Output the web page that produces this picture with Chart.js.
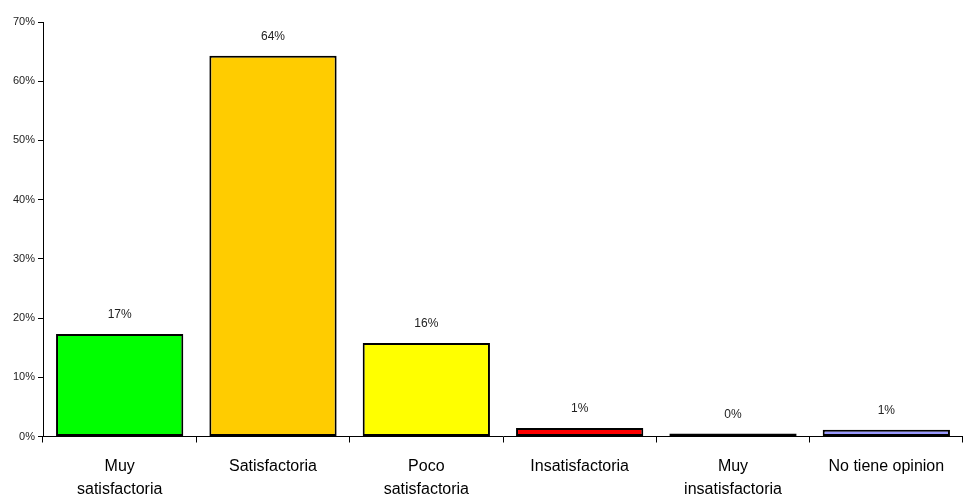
<!DOCTYPE html>
<html>
<head>
<meta charset="utf-8">
<script src="https://cdn.jsdelivr.net/npm/chart.js@4"></script>
<style>
  html, body { margin: 0; padding: 0; background: #fff; }
  #wrap { width: 963px; height: 499px; }
</style>
</head>
<body>
<div id="wrap"><canvas id="chart" width="963" height="499"></canvas></div>
<script>
const categories = [
    ['Muy', 'satisfactoria'],
    'Satisfactoria',
    ['Poco', 'satisfactoria'],
    'Insatisfactoria',
    ['Muy', 'insatisfactoria'],
    'No tiene opinion'
];
const values = [17.3, 64.3, 15.8, 1.45, 0.5, 1.15];
const valueLabels = ['17%', '64%', '16%', '1%', '0%', '1%'];
const barColors = ['#00FF00', '#FFCC00', '#FFFF00', '#FF0000', '#000000', '#9999FF'];

// value labels above each bar
const barLabels = {
    id: 'barLabels',
    afterDatasetsDraw(chart) {
        const ctx = chart.ctx;
        const meta = chart.getDatasetMeta(0);
        ctx.save();
        ctx.font = '12px "Liberation Sans", Arial, sans-serif';
        ctx.fillStyle = '#222';
        ctx.textAlign = 'center';
        ctx.textBaseline = 'middle';
        meta.data.forEach((bar, i) => {
            ctx.fillText(valueLabels[i], bar.x, bar.y - 19);
        });
        ctx.restore();
    }
};

new Chart(document.getElementById('chart').getContext('2d'), {
    type: 'bar',
    data: {
        labels: categories,
        datasets: [{
            data: values,
            backgroundColor: barColors,
            borderColor: '#000',
            borderWidth: 2,
            borderSkipped: false,
            barPercentage: 0.83,
            categoryPercentage: 1
        }]
    },
    options: {
        responsive: false,
        animation: false,
        layout: { padding: { top: 22, right: 0, left: 0, bottom: 0 } },
        plugins: {
            legend: { display: false },
            tooltip: { enabled: false }
        },
        scales: {
            x: {
                offset: true,
                grid: {
                    offset: true,
                    drawOnChartArea: false,
                    drawTicks: true,
                    tickLength: 6,
                    color: '#000'
                },
                border: { color: '#000', width: 1 },
                ticks: {
                    color: '#000',
                    maxRotation: 0,
                    autoSkip: false,
                    padding: 13,
                    font: { family: '"Liberation Sans", Arial, sans-serif', size: 16, lineHeight: 1.4 }
                },
                afterFit(scale) { scale.height = 62.5; }
            },
            y: {
                min: 0,
                max: 70,
                grid: {
                    drawOnChartArea: false,
                    drawTicks: true,
                    tickLength: 5,
                    color: '#000'
                },
                border: { color: '#000', width: 1 },
                ticks: {
                    stepSize: 10,
                    color: '#222',
                    padding: 3,
                    callback: v => v + '%',
                    font: { family: '"Liberation Sans", Arial, sans-serif', size: 11 }
                },
                afterFit(scale) { scale.width = 43; }
            }
        }
    },
    plugins: [barLabels]
});
</script>
</body>
</html>
